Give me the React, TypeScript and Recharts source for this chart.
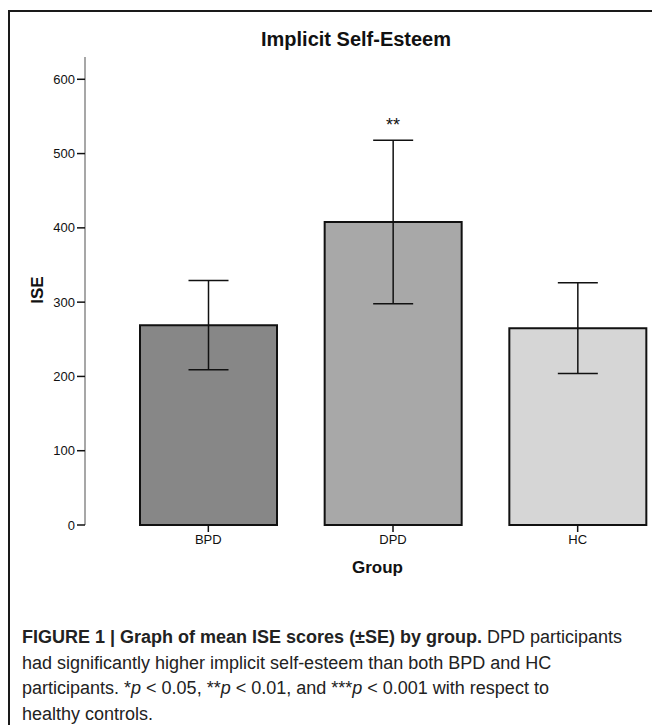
import { Bar, BarChart, Cell, ErrorBar, ReferenceDot, XAxis, YAxis } from "recharts";

const groups = ["BPD", "DPD", "HC"];
const meanISE = [269, 408, 265];
const seISE = [60, 110, 61];
const significance = ["", "**", ""];
const yTicks = [0, 100, 200, 300, 400, 500, 600];

const COLORS = ["#878787", "#a8a8a8", "#d6d6d6"];

const data = groups.map((g, i) => ({
  group: g,
  ise: meanISE[i],
  se: seISE[i],
}));

const FONT = '"Liberation Sans", Arial, Helvetica, sans-serif';

export default function App() {
  return (
    <div
      style={{
        position: "relative",
        width: 660,
        height: 720,
        marginTop: 2,
        borderTop: "2px solid #1a1a1a",
        borderLeft: "2px solid #1a1a1a",
        overflow: "hidden",
        fontFamily: FONT,
        background: "#fff",
      }}
    >
      <style>{"html, body { overflow: hidden; }"}</style>
      <div
        style={{
          position: "absolute",
          left: 0,
          width: 692,
          top: 16,
          textAlign: "center",
          fontSize: 20,
          fontWeight: "bold",
          color: "#111",
        }}
      >
        Implicit Self-Esteem
      </div>

      <div
        style={{
          position: "absolute",
          left: 38 - 10 - 30,
          top: 290 - 12 - 10,
          width: 60,
          textAlign: "center",
          fontSize: 17,
          fontWeight: "bold",
          color: "#111",
          transform: "rotate(-90deg)",
          lineHeight: "20px",
        }}
      >
        ISE
      </div>

      <div style={{ position: "absolute", left: 0, top: 0 }}>
        <BarChart
          width={670}
          height={578}
          data={data}
          margin={{ top: 45, right: 10, bottom: 5, left: 15 }}
          style={{ fontFamily: FONT }}
        >
          <XAxis
            dataKey="group"
            axisLine={false}
            tickLine={{ stroke: "#111", strokeWidth: 1.5 }}
            tickSize={7}
            tickMargin={3}
            padding={{ left: 31, right: 0 }}
            height={60}
            tick={{ fill: "#111", fontSize: 13 }}
            label={{
              value: "Group",
              position: "insideBottom",
              offset: 12,
              fill: "#111",
              fontSize: 17,
              fontWeight: "bold",
            }}
          />
          <YAxis
            width={60}
            domain={[0, 630]}
            ticks={yTicks}
            interval={0}
            axisLine={{ stroke: "#8a8a8a", strokeWidth: 1.5 }}
            tickLine={{ stroke: "#111", strokeWidth: 1.5 }}
            tickSize={8}
            tickMargin={2}
            tick={{ fill: "#111", fontSize: 13 }}
          />
          <Bar
            dataKey="ise"
            barSize={137}
            stroke="#111"
            strokeWidth={2}
            isAnimationActive={false}
          >
            {data.map((entry, index) => (
              <Cell key={`cell-${entry.group}`} fill={COLORS[index]} />
            ))}
            <ErrorBar
              dataKey="se"
              width={20}
              stroke="#111"
              strokeWidth={1.5}
              isAnimationActive={false}
            />
          </Bar>
          {groups.map((g, i) =>
            significance[i] ? (
              <ReferenceDot
                key={`sig-${g}`}
                x={g}
                y={meanISE[i] + seISE[i]}
                r={0}
                ifOverflow="visible"
                label={{
                  value: significance[i],
                  position: "top",
                  offset: 9,
                  fill: "#111",
                  fontSize: 18,
                }}
              />
            ) : null
          )}
        </BarChart>
      </div>

      <div
        style={{
          position: "absolute",
          left: 12,
          top: 613,
          width: 640,
          fontSize: 18,
          lineHeight: "25.5px",
          color: "#222",
          fontFamily: FONT,
          whiteSpace: "nowrap",
        }}
      >
        <b>FIGURE 1 | Graph of mean ISE scores (±SE) by group.</b> DPD participants
        <br />
        had significantly higher implicit self-esteem than both BPD and HC
        <br />
        participants. *<i>p</i> &lt; 0.05, **<i>p</i> &lt; 0.01, and ***<i>p</i> &lt; 0.001 with respect to
        <br />
        healthy controls.
      </div>
    </div>
  );
}
